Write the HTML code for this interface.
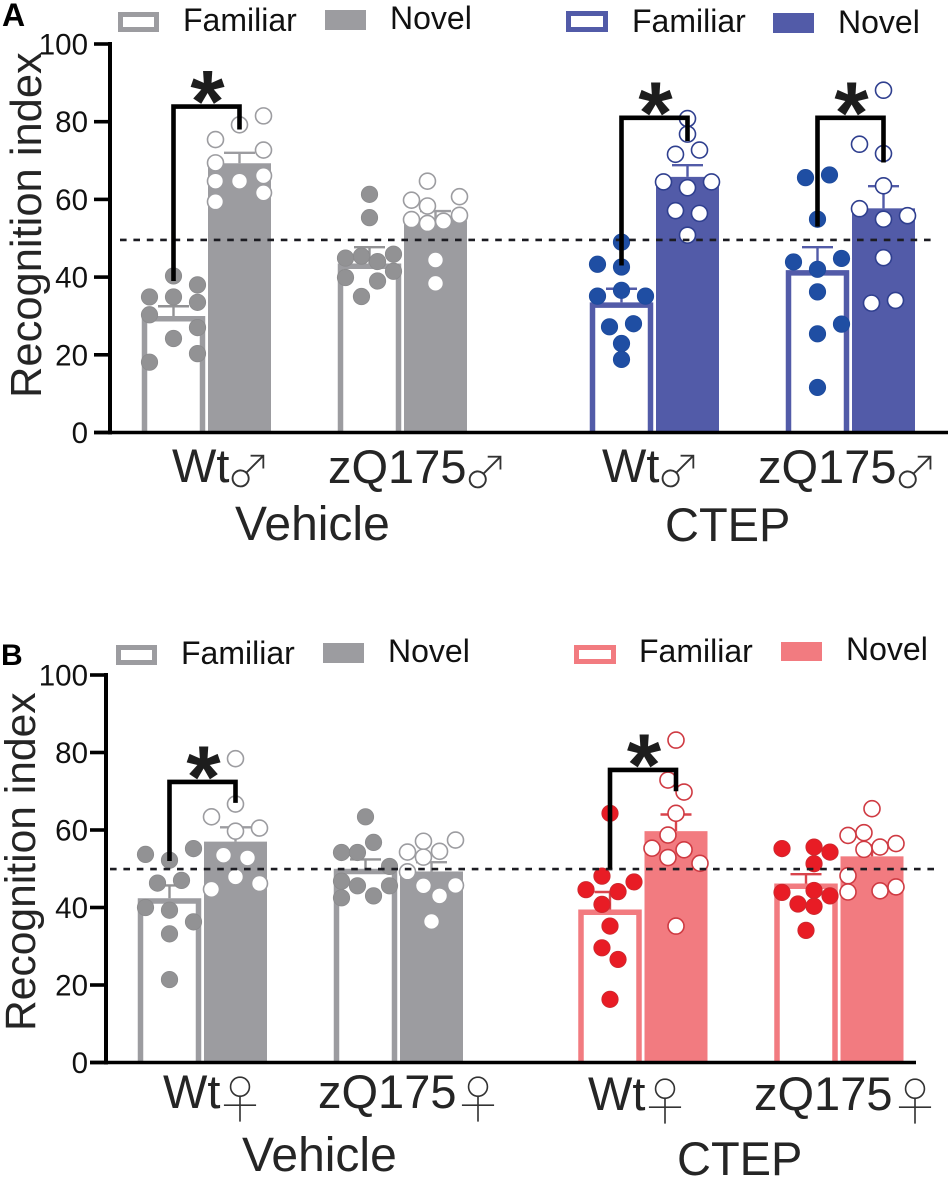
<!DOCTYPE html>
<html><head><meta charset="utf-8"><title>Recognition index</title>
<style>
html,body{margin:0;padding:0;background:#fff;width:950px;height:1179px;overflow:hidden}
svg{display:block}
text{font-family:"Liberation Sans","Noto Sans CJK JP",sans-serif;fill:#252525}
.sym-m{font-family:"IPAGothic","Noto Sans CJK JP",sans-serif;stroke:#fff;stroke-width:0.9px;fill:#333}
.sym-f{font-family:"Noto Sans CJK JP","Liberation Sans",sans-serif;font-weight:300;stroke:#fff;stroke-width:0.9px;fill:#333}
.lbl{font-size:47px}
.group{font-size:48px}
.leg{font-size:32px;fill:#111}
</style></head>
<body>
<svg id="chart" xmlns="http://www.w3.org/2000/svg" width="950" height="1179" viewBox="0 0 950 1179">
<rect width="950" height="1179" fill="#fff"/>
<g id="marks"></g>

<text x="2" y="26" font-size="32" font-weight="bold" style="fill:#000">A</text>
<text x="1" y="665" font-size="30" font-weight="bold" style="fill:#000">B</text>

<text transform="translate(41,398) rotate(-90)" font-size="43.5">Recognition index</text>
<text transform="translate(35,1031) rotate(-90)" font-size="42.6">Recognition index</text>

<g>
<rect x="120.5" y="14.5" width="36" height="15" fill="#fff" stroke="#9c9ca0" stroke-width="5"/>
<text class="leg" x="183" y="31">Familiar</text>
<rect x="325" y="10" width="41" height="20" fill="#9c9ca0"/>
<text class="leg" x="390" y="29">Novel</text>
</g>
<g>
<rect x="568.5" y="13.5" width="37" height="16" fill="#fff" stroke="#525ba8" stroke-width="5"/>
<text class="leg" x="632" y="32">Familiar</text>
<rect x="773" y="13" width="41" height="20" fill="#525ba8"/>
<text class="leg" x="838" y="33">Novel</text>
</g>
<g>
<rect x="118.5" y="647.5" width="36" height="15" fill="#fff" stroke="#9c9ca0" stroke-width="5"/>
<text class="leg" x="181" y="664">Familiar</text>
<rect x="323" y="643" width="41" height="20" fill="#9c9ca0"/>
<text class="leg" x="388" y="662">Novel</text>
</g>
<g>
<rect x="576.5" y="647.5" width="37" height="14" fill="#fff" stroke="#f27b80" stroke-width="5"/>
<text class="leg" x="639" y="662">Familiar</text>
<rect x="781" y="642" width="41" height="19" fill="#f27b80"/>
<text class="leg" x="846" y="660">Novel</text>
</g>

<text class="lbl" x="172" y="482">Wt<tspan class="sym-m" font-size="42" dx="-2.4" dy="5">♂</tspan></text>
<text class="lbl" x="328" y="483">zQ175<tspan class="sym-m" font-size="42" dx="-2.4" dy="5">♂</tspan></text>
<text class="lbl" x="602" y="482">Wt<tspan class="sym-m" font-size="42" dx="-2.4" dy="5">♂</tspan></text>
<text class="lbl" x="758" y="483">zQ175<tspan class="sym-m" font-size="42" dx="-2.4" dy="5">♂</tspan></text>
<text class="group" x="235" y="540">Vehicle</text>
<text class="lbl" x="665" y="541">CTEP</text>

<text class="lbl" x="163" y="1108">Wt<tspan class="sym-f" font-size="52" dx="-6.4" dy="11">♀</tspan></text>
<text class="lbl" x="318" y="1108">zQ175<tspan class="sym-f" font-size="52" dx="-4.5" dy="11">♀</tspan></text>
<text class="lbl" x="588" y="1110">Wt<tspan class="sym-f" font-size="52" dx="-6.4" dy="11">♀</tspan></text>
<text class="lbl" x="754" y="1110">zQ175<tspan class="sym-f" font-size="52" dx="-3.5" dy="11">♀</tspan></text>
<text class="group" x="242" y="1171">Vehicle</text>
<text class="lbl" x="677" y="1175">CTEP</text>
</svg>

<script>
const yTicks = [0, 20, 40, 60, 80, 100];
const chanceLevel = 50;

const aBarFamiliar = [30, 43.5, 33.5, 41.8];
const aBarNovel = [69.3, 54.6, 65.8, 57.7];
const aCapFamiliar = [32.5, 47.7, 37, 47.7];
const aCapNovel = [72, 57, 68.8, 63.4];
const aValuesFamiliar = [
  [40.3, 38, 34.9, 34.9, 33.5, 30.3, 27, 24.2, 20.3, 18.1],
  [61.3, 55.3, 45.4, 44.9, 45.9, 44, 41.5, 39.9, 39, 35],
  [49, 43.3, 42.6, 36.6, 35.1, 35.1, 28, 27.2, 22.9, 18.8],
  [65.6, 66.3, 54.9, 43.9, 44.8, 42, 36.2, 27.9, 25.4, 11.6]
];
const aJitterFamiliar = [
  [0, 2, -2, 0, 2, -2, 2, 0, 2, -2],
  [0, 0, -0.67, -2, 2, 0.67, 2, -2, 0.67, -0.67],
  [0, -2, 0, 0, -2, 2, 1, -1, 0, 0],
  [-1, 1, 0, -2, 2, 0, 0, 2, 0, 0]
];
const aValuesNovel = [
  [81.5, 79.2, 75.4, 72.7, 69.4, 66.1, 64.7, 64.7, 61.7, 59.4],
  [64.7, 59.8, 60.7, 58.3, 54.8, 55.9, 53.8, 54.4, 44.4, 38.4],
  [80.8, 76.8, 71.6, 72.7, 64.5, 64.5, 63, 57.1, 56.4, 50.8],
  [88.1, 74.2, 71.8, 63.5, 57.6, 55.8, 54.9, 45, 34, 33.3]
];
const aJitterNovel = [
  [2, 0, -2, 2, -2, 2, -2, 0, 2, -2],
  [-0.67, -2, 2, -0.67, -2, 2, -0.67, 0.67, 0, 0],
  [0, 0, -1, 1, -2, 2, 0, -1, 1, 0],
  [0, -2, 0, 0, -2, 2, 0, 0, 1, -1]
];
const aSigGroups = [0, 2, 3];
const aSigTop = [83.9, 81, 81];
const aSigLeftEnd = [39, 43, 53];
const aSigRightEnd = [78, 75, 69.5];

const bBarFamiliar = [42.4, 50, 39.5, 46.2];
const bBarNovel = [57, 49.3, 59.7, 53.2];
const bCapFamiliar = [45.7, 52.4, 44, 48.6];
const bCapNovel = [60.7, 51.7, 64, 56];
const bValuesFamiliar = [
  [53.7, 52.2, 55.2, 46.3, 47, 40, 39.3, 36.3, 33.2, 21.4],
  [63.4, 56.8, 54.2, 54.2, 50.6, 46.8, 45.6, 45.6, 43, 42.5],
  [64.3, 48.1, 46.6, 44.6, 44.1, 40.8, 35.2, 29.6, 26.6, 16.3],
  [55.2, 55.6, 54.3, 51.3, 43.9, 44.4, 43, 40.9, 40.3, 34.1]
];
const bJitterFamiliar = [
  [-2, 0, 2, -1, 1, -2, 0, 2, 0, 0],
  [0, 0.67, -2, -0.67, 2, -2, -0.67, 2, 0.67, -2],
  [0, -0.67, 2, -2, 0.67, -0.67, 0, -0.67, 0.67, 0],
  [-2, 0.67, 2, 0.67, -2, 0.67, 2, -0.67, 0.67, 0]
];
const bValuesNovel = [
  [78.4, 66.7, 63.4, 59.7, 60.5, 53.5, 52.8, 47.9, 44.7, 46.2],
  [57.4, 57.1, 54.3, 54.5, 53, 49.2, 45.6, 45.7, 43, 36.4],
  [83.2, 72.9, 69.8, 64.3, 58.7, 55.3, 54.9, 52.9, 51.4, 35.2],
  [65.5, 58.6, 59.3, 55, 55.6, 56.5, 48.2, 44, 44.3, 45.3]
];
const bJitterNovel = [
  [0, 0, -2, 0, 2, -1, 1, 0, -2, 2],
  [2, -0.67, -2, 0.67, -0.67, -2, -0.67, 2, 0.67, 0],
  [0, -0.67, 0.67, 0, -0.67, -2, 0.67, -0.67, 2, 0],
  [0, -2, -0.67, -0.67, 0.67, 2, -2, -2, 0.67, 2]
];
const bSigGroups = [0, 2];
const bSigTop = [72.4, 75.5];
const bSigLeftEnd = [52, 50];
const bSigRightEnd = [67, 70];

const NS = 'http://www.w3.org/2000/svg';
const root = document.getElementById('marks');

function add(parent, tag, attrs) {
  const el = document.createElementNS(NS, tag);
  for (const k in attrs) el.setAttribute(k, attrs[k]);
  parent.appendChild(el);
  return el;
}

const greyPalette = { bar: '#9c9ca0', errF: '#929294', errN: '#9c9ca0', dot: '#929294', edge: '#8a8a8c', open: '#9c9ca0' };
const bluePalette = { bar: '#525ba8', errF: '#525ba8', errN: '#525ba8', dot: '#1f4ea3', edge: '#1d4a9c', open: '#2f3f8f' };
const redPalette = { bar: '#f27b80', errF: '#d9444c', errN: '#d9444c', dot: '#e81c25', edge: '#c92a30', open: '#cf3a42' };

function drawPanel(p) {
  const y = v => p.y0 - v * p.unit;
  const groupX = g => p.firstGroup + g * p.groupStep + (g >= 2 ? p.treatmentGap : 0);
  const barX = (g, t) => groupX(g) + (t === 0 ? -33 : 33);
  const pal = g => (g < 2 ? greyPalette : p.treated);

  const panel = add(root, 'g', {});
  
  

  p.barFamiliar.forEach((v, g) => {
    const cx = barX(g, 0);
    const bar = add(panel, 'path', {
      d: `M${cx - 29} ${p.y0} V${y(v) + 2.75} H${cx + 29} V${p.y0}`,
      fill: '#fff', stroke: pal(g).bar, 'stroke-width': 5.5
    });
    
    
  });
  p.barNovel.forEach((v, g) => {
    const cx = barX(g, 1);
    const bar = add(panel, 'rect', {
      x: cx - 31.5, y: y(v), width: 63, height: p.y0 - y(v), fill: pal(g).bar
    });
    
    
  });

  p.capFamiliar.forEach((v, g) => {
    const cx = barX(g, 0);
    const err = add(panel, 'path', {
      d: `M${cx} ${y(p.barFamiliar[g])} V${y(v)} M${cx - 15.5} ${y(v)} H${cx + 15.5}`,
      fill: 'none', stroke: pal(g).errF, 'stroke-width': 2.4
    });
    
    
  });
  p.capNovel.forEach((v, g) => {
    const cx = barX(g, 1);
    const err = add(panel, 'path', {
      d: `M${cx} ${y(p.barNovel[g])} V${y(v)} M${cx - 15.5} ${y(v)} H${cx + 15.5}`,
      fill: 'none', stroke: pal(g).errN, 'stroke-width': 2.4
    });
    
    
  });

  p.valuesFamiliar.forEach((vals, g) => {
    vals.forEach((v, i) => {
      const dot = add(panel, 'circle', {
        cx: barX(g, 0) + p.jitterFamiliar[g][i] * 12, cy: y(v), r: 8.2,
        fill: pal(g).dot, stroke: pal(g).edge, 'stroke-width': 0.8
      });
      
      
    });
  });
  p.valuesNovel.forEach((vals, g) => {
    vals.forEach((v, i) => {
      const dot = add(panel, 'circle', {
        cx: barX(g, 1) + p.jitterNovel[g][i] * 12, cy: y(v), r: 8,
        fill: '#fff', stroke: pal(g).open, 'stroke-width': 1.6
      });
      
      
    });
  });

  const chanceY = y(chanceLevel) + p.chanceNudge;
  const chance = add(panel, 'line', {
    x1: p.chanceStart, x2: p.chanceEnd, y1: chanceY, y2: chanceY,
    stroke: '#1c1c22', 'stroke-width': 2.6, 'stroke-dasharray': '6.6 6.8'
  });
  
  

  p.sigGroups.forEach((g, i) => {
    const l = barX(g, 0), r = barX(g, 1);
    const br = add(panel, 'path', {
      d: `M${l} ${y(p.sigLeftEnd[i])} V${y(p.sigTop[i])} H${r} V${y(p.sigRightEnd[i])}`,
      fill: 'none', stroke: '#000', 'stroke-width': 4.6, 'stroke-linejoin': 'miter'
    });
    
    
    const star = add(panel, 'text', {
      x: (l + r) / 2 + 1, y: y(p.sigTop[i]) + 25,
      'text-anchor': 'middle', 'font-size': 88, 'font-weight': 'bold'
    });
    star.style.fill = '#1d1d1d';
    star.textContent = '*';
    
    
  });

  const yAxis = add(panel, 'line', {
    x1: p.axisX, x2: p.axisX, y1: y(100) - 2, y2: y(0) + 2, stroke: '#000', 'stroke-width': 4
  });
  
  
  const xAxis = add(panel, 'line', {
    x1: p.axisX - 16, x2: p.axisEnd, y1: y(0), y2: y(0), stroke: '#000', 'stroke-width': 3.6
  });
  
  

  yTicks.forEach(t => {
    const mark = add(panel, 'line', {
      x1: p.axisX - 16, x2: p.axisX, y1: y(t), y2: y(t), stroke: '#000', 'stroke-width': 3.6
    });
    
    
    const lab = add(panel, 'text', {
      x: 88, y: y(t) + 10.5, 'text-anchor': 'end', 'font-size': 29.5
    });
    lab.style.fill = '#111';
    lab.textContent = t;
    
    
  });
}

drawPanel({
  name: 'panel-a', y0: 432.5, unit: 3.885, axisX: 110, axisEnd: 948,
  firstGroup: 206.5, groupStep: 196, treatmentGap: 56,
  chanceStart: 120, chanceEnd: 936, chanceNudge: 1.7, treated: bluePalette,
  barFamiliar: aBarFamiliar, barNovel: aBarNovel, capFamiliar: aCapFamiliar, capNovel: aCapNovel,
  valuesFamiliar: aValuesFamiliar, jitterFamiliar: aJitterFamiliar,
  valuesNovel: aValuesNovel, jitterNovel: aJitterNovel,
  sigGroups: aSigGroups, sigTop: aSigTop, sigLeftEnd: aSigLeftEnd, sigRightEnd: aSigRightEnd
});
drawPanel({
  name: 'panel-b', y0: 1062.5, unit: 3.875, axisX: 106, axisEnd: 916,
  firstGroup: 202.5, groupStep: 196, treatmentGap: 48.5,
  chanceStart: 110, chanceEnd: 938, chanceNudge: 0.3, treated: redPalette,
  barFamiliar: bBarFamiliar, barNovel: bBarNovel, capFamiliar: bCapFamiliar, capNovel: bCapNovel,
  valuesFamiliar: bValuesFamiliar, jitterFamiliar: bJitterFamiliar,
  valuesNovel: bValuesNovel, jitterNovel: bJitterNovel,
  sigGroups: bSigGroups, sigTop: bSigTop, sigLeftEnd: bSigLeftEnd, sigRightEnd: bSigRightEnd
});
</script>
</body></html>
